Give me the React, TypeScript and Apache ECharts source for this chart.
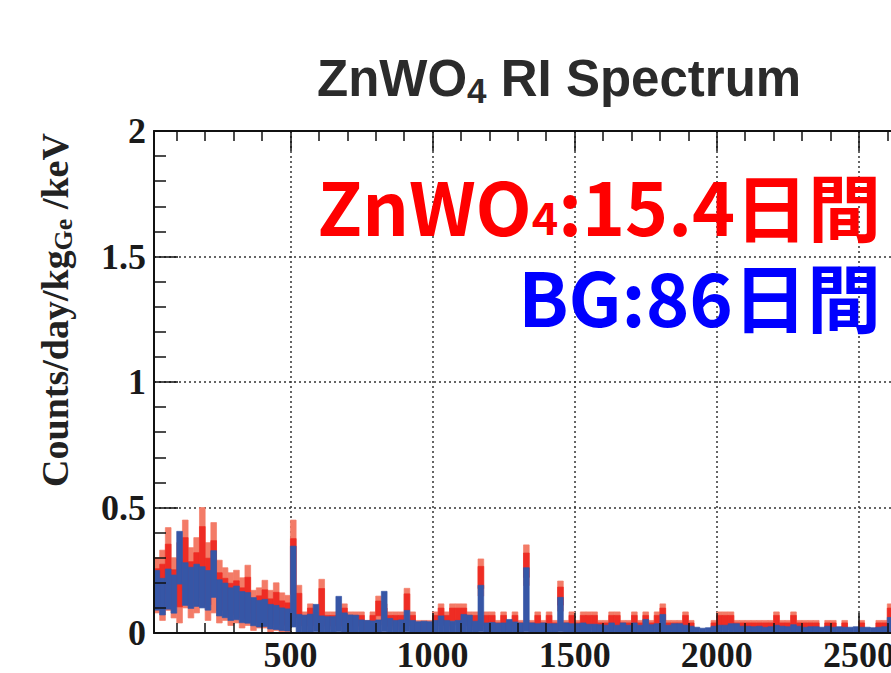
import React, { useEffect, useRef } from "react";
import * as echarts from "echarts";

// ---- axis ranges / binning ----
const ENERGY_MIN = 20;
const ENERGY_MAX = 3000;
const BIN_WIDTH = 20; // keV per bin, first bin starts at ENERGY_MIN

// ---- ZnWO4 (15.4 days): rate per bin and its error (Counts/day/kg/keV) ----
const znwo4Rate = [
  0.190, 0.190, 0.255, 0.180, 0.200, 0.275, 0.200, 0.230, 0.310, 0.205,
  0.260, 0.165, 0.155, 0.135, 0.145, 0.120, 0.150, 0.090, 0.100, 0.115,
  0.085, 0.105, 0.080, 0.075, 0.265, 0.110, 0.049, 0.074, 0.049, 0.122,
  0.049, 0.049, 0.049, 0.074, 0.049, 0.049, 0.049, 0.025, 0.049, 0.098,
  0.074, 0.049, 0.049, 0.049, 0.123, 0.049, 0.025, 0.025, 0.025, 0.049,
  0.074, 0.049, 0.074, 0.074, 0.074, 0.049, 0.049, 0.221, 0.049, 0.049,
  0.025, 0.049, 0.025, 0.049, 0.025, 0.270, 0.025, 0.049, 0.025, 0.049,
  0.025, 0.147, 0.025, 0.049, 0.025, 0.049, 0.049, 0.049, 0.025, 0.025,
  0.049, 0.049, 0.025, 0.025, 0.049, 0.025, 0.049, 0.025, 0.049, 0.074,
  0.025, 0.025, 0.025, 0.049, 0.025, 0, 0, 0, 0.025, 0.049,
  0.049, 0.049, 0.025, 0.025, 0.025, 0.025, 0.025, 0.025, 0.025, 0.049,
  0.025, 0.025, 0.049, 0.025, 0.025, 0.025, 0.025, 0, 0.025, 0.025,
  0, 0.025, 0, 0, 0.025, 0, 0, 0.025, 0.025, 0.074,
];
const znwo4Err = [
  0.110, 0.140, 0.165, 0.120, 0.160, 0.175, 0.140, 0.150, 0.190, 0.155,
  0.180, 0.125, 0.105, 0.105, 0.105, 0.100, 0.120, 0.080, 0.080, 0.095,
  0.085, 0.095, 0.080, 0.075, 0.185, 0.080, 0.035, 0.042, 0.035, 0.092,
  0.035, 0.035, 0.035, 0.042, 0.035, 0.035, 0.035, 0.025, 0.035, 0.049,
  0.042, 0.035, 0.035, 0.035, 0.055, 0.035, 0.025, 0.025, 0.025, 0.035,
  0.042, 0.035, 0.042, 0.042, 0.042, 0.035, 0.035, 0.074, 0.035, 0.035,
  0.025, 0.035, 0.025, 0.035, 0.025, 0.081, 0.025, 0.035, 0.025, 0.035,
  0.025, 0.060, 0.025, 0.035, 0.025, 0.035, 0.035, 0.035, 0.025, 0.025,
  0.035, 0.035, 0.025, 0.025, 0.035, 0.025, 0.035, 0.025, 0.035, 0.042,
  0.025, 0.025, 0.025, 0.035, 0.025, 0, 0, 0, 0.025, 0.035,
  0.035, 0.035, 0.025, 0.025, 0.025, 0.025, 0.025, 0.025, 0.025, 0.035,
  0.025, 0.025, 0.035, 0.025, 0.025, 0.025, 0.025, 0, 0.025, 0.025,
  0, 0.025, 0, 0, 0.025, 0, 0, 0.025, 0.025, 0.042,
];

// ---- BG (86 days): rate per bin and its error ----
const bgRate = [
  0.170, 0.145, 0.175, 0.155, 0.300, 0.195, 0.180, 0.190, 0.182, 0.170,
  0.235, 0.140, 0.130, 0.115, 0.120, 0.103, 0.100, 0.085, 0.077, 0.080,
  0.065, 0.062, 0.055, 0.052, 0.185, 0.037, 0.035, 0.038, 0.060, 0.033,
  0.031, 0.031, 0.0755, 0.041, 0.036, 0.035, 0.023, 0.022, 0.021, 0.023,
  0.0855, 0.027, 0.022, 0.023, 0.0475, 0.022, 0.019, 0.020, 0.019, 0.022,
  0.033, 0.022, 0.020, 0.022, 0.037, 0.035, 0.020, 0.0975, 0.016, 0.017,
  0.015, 0.016, 0.024, 0.018, 0.016, 0.1325, 0.016, 0.014, 0.016, 0.014,
  0.014, 0.0735, 0.016, 0.014, 0.014, 0.016, 0.013, 0.013, 0.012, 0.011,
  0.016, 0.011, 0.016, 0.011, 0.016, 0.011, 0.024, 0.012, 0.014, 0.037,
  0.011, 0.014, 0.014, 0.011, 0.009, 0.007, 0.005, 0.006, 0.009, 0.011,
  0.011, 0.014, 0.014, 0.009, 0.009, 0.008, 0.009, 0.007, 0.008, 0.011,
  0.009, 0.008, 0.012, 0.009, 0.007, 0.008, 0.008, 0.007, 0.009, 0.007,
  0.008, 0.007, 0.007, 0.008, 0.007, 0.007, 0.006, 0.007, 0.008, 0.029,
];
const bgErr = [
  0.079, 0.073, 0.080, 0.076, 0.105, 0.085, 0.082, 0.084, 0.082, 0.079,
  0.093, 0.072, 0.069, 0.065, 0.067, 0.062, 0.061, 0.056, 0.053, 0.054,
  0.049, 0.048, 0.045, 0.044, 0.161, 0.037, 0.036, 0.037, 0.054, 0.035,
  0.034, 0.034, 0.0705, 0.039, 0.036, 0.036, 0.029, 0.028, 0.027, 0.029,
  0.0805, 0.031, 0.028, 0.029, 0.0425, 0.028, 0.026, 0.027, 0.026, 0.028,
  0.035, 0.028, 0.027, 0.028, 0.037, 0.036, 0.027, 0.0925, 0.024, 0.025,
  0.024, 0.024, 0.030, 0.026, 0.024, 0.1275, 0.024, 0.023, 0.024, 0.023,
  0.023, 0.0685, 0.024, 0.023, 0.023, 0.024, 0.022, 0.022, 0.021, 0.020,
  0.024, 0.020, 0.024, 0.020, 0.024, 0.020, 0.030, 0.021, 0.023, 0.037,
  0.020, 0.023, 0.023, 0.020, 0.018, 0.016, 0.014, 0.015, 0.018, 0.020,
  0.020, 0.023, 0.023, 0.018, 0.018, 0.017, 0.018, 0.016, 0.017, 0.020,
  0.018, 0.017, 0.021, 0.018, 0.016, 0.017, 0.017, 0.016, 0.018, 0.016,
  0.017, 0.016, 0.016, 0.017, 0.016, 0.016, 0.015, 0.016, 0.017, 0.033,
];

// ---- tick labels ----
const xMajorTicks = [500, 1000, 1500, 2000, 2500, 3000];
const xMinorTicks = [
  100, 200, 300, 400, 600, 700, 800, 900, 1100, 1200, 1300, 1400,
  1600, 1700, 1800, 1900, 2100, 2200, 2300, 2400, 2600, 2700, 2800, 2900,
];

const TITLE_MAIN = "ZnWO";
const TITLE_SUB = "4";
const TITLE_REST = " RI Spectrum";
const Y_TITLE_MAIN = "Counts/day/kg";
const Y_TITLE_SUB = "Ge";
const Y_TITLE_REST = " /keV";
const NOTE_RED = ["ZnWO", "4", ":15.4日間"];
const NOTE_BLUE = "BG:86日間";

const SERIF = "'Liberation Serif', 'Times New Roman', serif";
const SANS = "'Liberation Sans', Arial, sans-serif";
const CJK = "'Noto Sans CJK JP', 'Noto Sans', sans-serif";

function bandSeries(lo: number[], hi: number[], color: string, z: number) {
  const rows = lo.map((l, i) => [
    ENERGY_MIN + i * BIN_WIDTH,
    ENERGY_MIN + (i + 1) * BIN_WIDTH,
    l,
    hi[i],
  ]);
  return {
    type: "custom",
    xAxisIndex: 0,
    yAxisIndex: 0,
    z,
    silent: true,
    data: rows,
    encode: { x: [0, 1], y: [2, 3] },
    renderItem: (params: any, api: any) => {
      const x0 = api.value(0);
      const x1 = api.value(1);
      const lo = api.value(2);
      const hi = api.value(3);
      if (!(hi > lo)) return null;
      const a = api.coord([x0, hi]);
      const b = api.coord([x1, lo]);
      return {
        type: "rect",
        shape: { x: a[0], y: a[1], width: b[0] - a[0], height: b[1] - a[1] },
        style: { fill: color, stroke: color, lineWidth: 0.7 },
      };
    },
  };
}

export default function App() {
  const ref = useRef<HTMLDivElement>(null);

  useEffect(() => {
    if (!ref.current) return;
    const chart = echarts.init(ref.current, null, { renderer: "svg" });

    const redLo = znwo4Rate.map((v, i) => Math.max(0, v - znwo4Err[i]));
    const redHi = znwo4Rate.map((v, i) => v + znwo4Err[i]);
    const redInLo = znwo4Rate.map((v, i) => Math.max(0, v - 0.6 * znwo4Err[i]));
    const redInHi = znwo4Rate.map((v, i) => v + 0.6 * znwo4Err[i]);
    const blueLo = bgRate.map((v, i) => Math.max(0, v - bgErr[i]));
    const blueHi = bgRate.map((v, i) => v + bgErr[i]);

    const labelStyle = {
      fontFamily: SERIF,
      fontWeight: "bold",
      fontSize: 36,
      lineHeight: 28,
      color: "#1a1a1a",
      formatter: (v: number) => String(v),
    };
    const frame = { show: true, lineStyle: { color: "#111", width: 2 } };
    const tickLine = { color: "#111", width: 1.5 };
    const dashed = {
      show: true,
      lineStyle: { color: "#333", width: 1.5, type: [2, 3] },
    };
    const baseX = { type: "value", min: ENERGY_MIN, max: ENERGY_MAX };

    const option: any = {
      animation: false,
      backgroundColor: "#ffffff",
      grid: { left: 154, top: 131, width: 847, height: 504, containLabel: false },
      xAxis: [
        {
          ...baseX,
          position: "bottom",
          z: 0,
          axisLine: { show: false },
          axisTick: { show: false, customValues: xMajorTicks },
          axisLabel: { ...labelStyle, margin: 8, customValues: xMajorTicks },
          splitLine: dashed,
        },
        {
          ...baseX,
          position: "bottom",
          z: 10,
          axisLine: frame,
          axisTick: { show: true, inside: true, length: 20, customValues: xMajorTicks, lineStyle: tickLine },
          axisLabel: { show: false },
          splitLine: { show: false },
        },
        {
          ...baseX,
          position: "bottom",
          z: 10,
          axisLine: { show: false },
          axisTick: { show: true, inside: true, length: 10, customValues: xMinorTicks, lineStyle: tickLine },
          axisLabel: { show: false },
          splitLine: { show: false },
        },
        {
          ...baseX,
          position: "top",
          z: 10,
          axisLine: frame,
          axisTick: { show: true, inside: true, length: 20, customValues: xMajorTicks, lineStyle: tickLine },
          axisLabel: { show: false },
          splitLine: { show: false },
        },
        {
          ...baseX,
          position: "top",
          z: 10,
          axisLine: { show: false },
          axisTick: { show: true, inside: true, length: 10, customValues: xMinorTicks, lineStyle: tickLine },
          axisLabel: { show: false },
          splitLine: { show: false },
        },
      ],
      yAxis: [
        {
          type: "value",
          min: 0,
          max: 2,
          interval: 0.5,
          position: "left",
          z: 0,
          axisLine: { show: false },
          axisTick: { show: false },
          axisLabel: { ...labelStyle, margin: 8 },
          splitLine: dashed,
        },
        {
          type: "value",
          min: 0,
          max: 2,
          interval: 0.5,
          position: "left",
          z: 10,
          axisLine: frame,
          axisTick: { show: true, inside: true, length: 24, lineStyle: tickLine },
          minorTick: { show: true, splitNumber: 5, length: 12, lineStyle: tickLine },
          axisLabel: { show: false },
          splitLine: { show: false },
        },
      ],
      series: [
        bandSeries(redLo, redHi, "#f37b67", 2),
        bandSeries(redInLo, redInHi, "#ee2c24", 3),
        bandSeries(blueLo, blueHi, "#3656a6", 4),
      ],
      graphic: [
        {
          type: "text",
          x: 317,
          y: 48,
          z: 20,
          style: {
            text: `{m|${TITLE_MAIN}}{s|${TITLE_SUB}}{m|${TITLE_REST}}`,
            align: "left",
            verticalAlign: "top",
            rich: {
              m: { fontFamily: SANS, fontWeight: "bold", fontSize: 51, lineHeight: 60, fill: "#2b2b2b" },
              s: { fontFamily: SANS, fontWeight: "bold", fontSize: 35, lineHeight: 20, verticalAlign: "bottom", fill: "#2b2b2b" },
            },
          },
        },
        {
          type: "text",
          x: 881,
          y: 170,
          z: 20,
          style: {
            text: `{m|${NOTE_RED[0]}}{s|${NOTE_RED[1]}}{m|${NOTE_RED[2]}}`,
            align: "right",
            verticalAlign: "top",
            rich: {
              m: { fontFamily: CJK, fontWeight: "bold", fontSize: 73, lineHeight: 68, fill: "#ff0000" },
              s: { fontFamily: CJK, fontWeight: "bold", fontSize: 45, lineHeight: 22, verticalAlign: "bottom", fill: "#ff0000" },
            },
          },
        },
        {
          type: "text",
          x: 881,
          y: 294,
          z: 20,
          style: {
            text: NOTE_BLUE,
            align: "right",
            verticalAlign: "middle",
            fontFamily: CJK,
            fontWeight: "bold",
            fontSize: 74,
            lineHeight: 66,
            fill: "#0000ff",
          },
        },
        {
          type: "text",
          x: 55,
          y: 310,
          rotation: Math.PI / 2,
          z: 20,
          style: {
            text: `{m|${Y_TITLE_MAIN}}{s|${Y_TITLE_SUB}}{m|${Y_TITLE_REST}}`,
            align: "center",
            verticalAlign: "middle",
            rich: {
              m: { fontFamily: SERIF, fontWeight: "bold", fontSize: 38, lineHeight: 42, fill: "#222" },
              s: { fontFamily: SERIF, fontWeight: "bold", fontSize: 26, lineHeight: 20, verticalAlign: "bottom", fill: "#222" },
            },
          },
        },
      ],
    };

    chart.setOption(option);
    return () => chart.dispose();
  }, []);

  return (
    <div
      style={{
        position: "fixed",
        left: 0,
        top: 0,
        width: 891,
        height: 673,
        overflow: "hidden",
        background: "#fff",
      }}
    >
      <div ref={ref} style={{ width: 1060, height: 673 }} />
    </div>
  );
}
